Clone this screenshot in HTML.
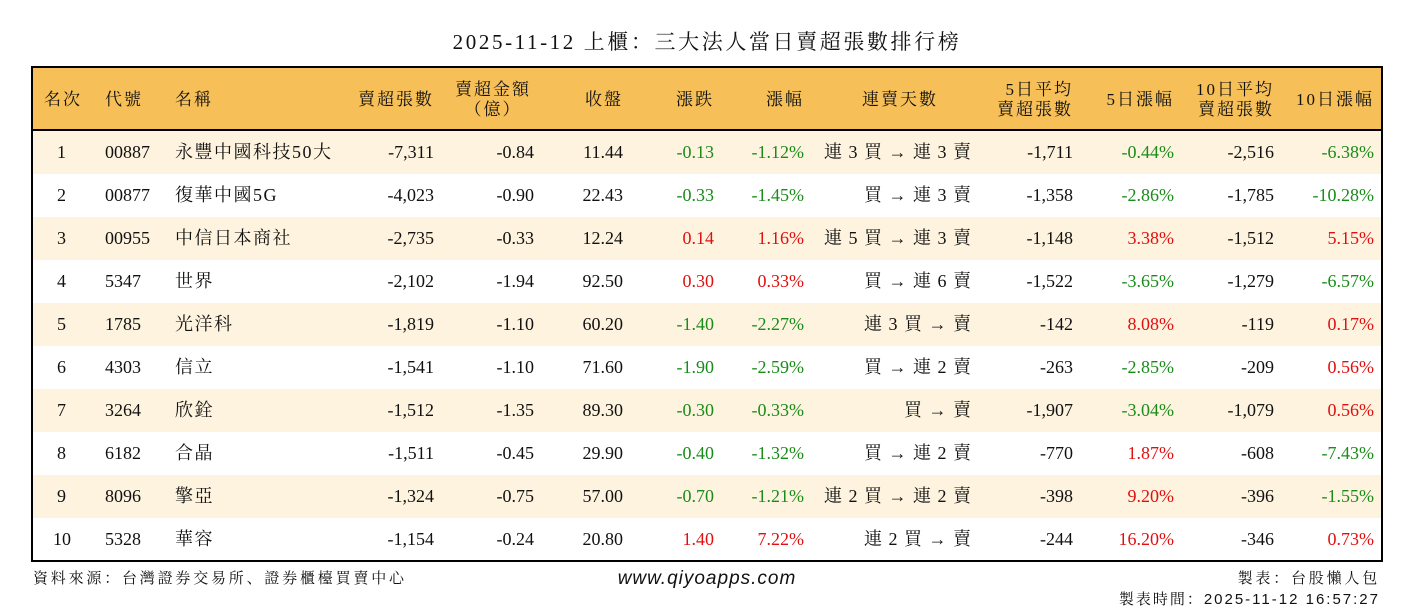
<!DOCTYPE html>
<html><head><meta charset="utf-8"><style>
body{margin:0;width:1414px;height:612px;background:#fff;position:relative;overflow:hidden;font-family:"Liberation Serif","Noto Serif CJK SC","Noto Sans CJK TC",serif;color:#111;}
.t{position:absolute;left:0;width:1414px;top:28px;text-align:center;font-size:21px;line-height:28px;letter-spacing:2.6px;}
.tb{position:absolute;left:31px;top:66px;width:1348px;height:492px;border:2px solid #000;}
.hd{position:absolute;left:0;top:0;width:1348px;height:61px;background:#F6BF57;border-bottom:2px solid #000;}
.r{position:absolute;left:0;width:1348px;height:43px;}
.o{background:#FDF3DE;}
.c{position:absolute;line-height:43px;font-size:18px;white-space:nowrap;}
.h{position:absolute;font-size:17px;white-space:nowrap;letter-spacing:2px;line-height:20px;}
.R{text-align:right;width:200px;}
.g{color:#1a8c1a}.d{color:#e01010}
.cj{letter-spacing:1.5px}
.cd{letter-spacing:1px}
.f{position:absolute;font-family:"Liberation Sans","Noto Serif CJK SC","Noto Sans CJK TC",sans-serif;font-size:15px;letter-spacing:2.8px;white-space:nowrap;}
</style></head><body>
<div class="t">2025-11-12 上櫃：三大法人當日賣超張數排行榜</div>
<div class="tb">
<div class="hd">
<div class="h" style="left:11px;top:22px">名次</div>
<div class="h" style="left:72px;top:22px">代號</div>
<div class="h" style="left:142px;top:22px">名稱</div>
<div class="h R" style="left:201px;top:22px">賣超張數</div>
<div class="h" style="left:419px;top:12px;width:82px;text-align:center">賣超金額<br>（億）</div>
<div class="h R" style="left:390px;top:22px">收盤</div>
<div class="h R" style="left:481px;top:22px">漲跌</div>
<div class="h R" style="left:571px;top:22px">漲幅</div>
<div class="h R" style="left:705px;top:22px">連賣天數</div>
<div class="h R" style="left:840px;top:12px">5日平均<br>賣超張數</div>
<div class="h R" style="left:941px;top:22px">5日漲幅</div>
<div class="h R" style="left:1041px;top:12px">10日平均<br>賣超張數</div>
<div class="h R" style="left:1141px;top:22px">10日漲幅</div>
</div>

<div class="r o" style="top:63px">
<div class="c" style="left:24px">1</div><div class="c" style="left:72px">00887</div><div class="c cj" style="left:142px">永豐中國科技50大</div>
<div class="c R" style="left:201px">-7,311</div><div class="c R" style="left:301px">-0.84</div><div class="c R" style="left:390px">11.44</div>
<div class="c R g" style="left:481px">-0.13</div><div class="c R g" style="left:571px">-1.12%</div><div class="c R cd" style="left:739px">連 3 買 → 連 3 賣</div>
<div class="c R" style="left:840px">-1,711</div><div class="c R g" style="left:941px">-0.44%</div><div class="c R" style="left:1041px">-2,516</div><div class="c R g" style="left:1141px">-6.38%</div>
</div>
<div class="r" style="top:106px">
<div class="c" style="left:24px">2</div><div class="c" style="left:72px">00877</div><div class="c cj" style="left:142px">復華中國5G</div>
<div class="c R" style="left:201px">-4,023</div><div class="c R" style="left:301px">-0.90</div><div class="c R" style="left:390px">22.43</div>
<div class="c R g" style="left:481px">-0.33</div><div class="c R g" style="left:571px">-1.45%</div><div class="c R cd" style="left:739px">買 → 連 3 賣</div>
<div class="c R" style="left:840px">-1,358</div><div class="c R g" style="left:941px">-2.86%</div><div class="c R" style="left:1041px">-1,785</div><div class="c R g" style="left:1141px">-10.28%</div>
</div>
<div class="r o" style="top:149px">
<div class="c" style="left:24px">3</div><div class="c" style="left:72px">00955</div><div class="c cj" style="left:142px">中信日本商社</div>
<div class="c R" style="left:201px">-2,735</div><div class="c R" style="left:301px">-0.33</div><div class="c R" style="left:390px">12.24</div>
<div class="c R d" style="left:481px">0.14</div><div class="c R d" style="left:571px">1.16%</div><div class="c R cd" style="left:739px">連 5 買 → 連 3 賣</div>
<div class="c R" style="left:840px">-1,148</div><div class="c R d" style="left:941px">3.38%</div><div class="c R" style="left:1041px">-1,512</div><div class="c R d" style="left:1141px">5.15%</div>
</div>
<div class="r" style="top:192px">
<div class="c" style="left:24px">4</div><div class="c" style="left:72px">5347</div><div class="c cj" style="left:142px">世界</div>
<div class="c R" style="left:201px">-2,102</div><div class="c R" style="left:301px">-1.94</div><div class="c R" style="left:390px">92.50</div>
<div class="c R d" style="left:481px">0.30</div><div class="c R d" style="left:571px">0.33%</div><div class="c R cd" style="left:739px">買 → 連 6 賣</div>
<div class="c R" style="left:840px">-1,522</div><div class="c R g" style="left:941px">-3.65%</div><div class="c R" style="left:1041px">-1,279</div><div class="c R g" style="left:1141px">-6.57%</div>
</div>
<div class="r o" style="top:235px">
<div class="c" style="left:24px">5</div><div class="c" style="left:72px">1785</div><div class="c cj" style="left:142px">光洋科</div>
<div class="c R" style="left:201px">-1,819</div><div class="c R" style="left:301px">-1.10</div><div class="c R" style="left:390px">60.20</div>
<div class="c R g" style="left:481px">-1.40</div><div class="c R g" style="left:571px">-2.27%</div><div class="c R cd" style="left:739px">連 3 買 → 賣</div>
<div class="c R" style="left:840px">-142</div><div class="c R d" style="left:941px">8.08%</div><div class="c R" style="left:1041px">-119</div><div class="c R d" style="left:1141px">0.17%</div>
</div>
<div class="r" style="top:278px">
<div class="c" style="left:24px">6</div><div class="c" style="left:72px">4303</div><div class="c cj" style="left:142px">信立</div>
<div class="c R" style="left:201px">-1,541</div><div class="c R" style="left:301px">-1.10</div><div class="c R" style="left:390px">71.60</div>
<div class="c R g" style="left:481px">-1.90</div><div class="c R g" style="left:571px">-2.59%</div><div class="c R cd" style="left:739px">買 → 連 2 賣</div>
<div class="c R" style="left:840px">-263</div><div class="c R g" style="left:941px">-2.85%</div><div class="c R" style="left:1041px">-209</div><div class="c R d" style="left:1141px">0.56%</div>
</div>
<div class="r o" style="top:321px">
<div class="c" style="left:24px">7</div><div class="c" style="left:72px">3264</div><div class="c cj" style="left:142px">欣銓</div>
<div class="c R" style="left:201px">-1,512</div><div class="c R" style="left:301px">-1.35</div><div class="c R" style="left:390px">89.30</div>
<div class="c R g" style="left:481px">-0.30</div><div class="c R g" style="left:571px">-0.33%</div><div class="c R cd" style="left:739px">買 → 賣</div>
<div class="c R" style="left:840px">-1,907</div><div class="c R g" style="left:941px">-3.04%</div><div class="c R" style="left:1041px">-1,079</div><div class="c R d" style="left:1141px">0.56%</div>
</div>
<div class="r" style="top:364px">
<div class="c" style="left:24px">8</div><div class="c" style="left:72px">6182</div><div class="c cj" style="left:142px">合晶</div>
<div class="c R" style="left:201px">-1,511</div><div class="c R" style="left:301px">-0.45</div><div class="c R" style="left:390px">29.90</div>
<div class="c R g" style="left:481px">-0.40</div><div class="c R g" style="left:571px">-1.32%</div><div class="c R cd" style="left:739px">買 → 連 2 賣</div>
<div class="c R" style="left:840px">-770</div><div class="c R d" style="left:941px">1.87%</div><div class="c R" style="left:1041px">-608</div><div class="c R g" style="left:1141px">-7.43%</div>
</div>
<div class="r o" style="top:407px">
<div class="c" style="left:24px">9</div><div class="c" style="left:72px">8096</div><div class="c cj" style="left:142px">擎亞</div>
<div class="c R" style="left:201px">-1,324</div><div class="c R" style="left:301px">-0.75</div><div class="c R" style="left:390px">57.00</div>
<div class="c R g" style="left:481px">-0.70</div><div class="c R g" style="left:571px">-1.21%</div><div class="c R cd" style="left:739px">連 2 買 → 連 2 賣</div>
<div class="c R" style="left:840px">-398</div><div class="c R d" style="left:941px">9.20%</div><div class="c R" style="left:1041px">-396</div><div class="c R g" style="left:1141px">-1.55%</div>
</div>
<div class="r" style="top:450px">
<div class="c" style="left:20px">10</div><div class="c" style="left:72px">5328</div><div class="c cj" style="left:142px">華容</div>
<div class="c R" style="left:201px">-1,154</div><div class="c R" style="left:301px">-0.24</div><div class="c R" style="left:390px">20.80</div>
<div class="c R d" style="left:481px">1.40</div><div class="c R d" style="left:571px">7.22%</div><div class="c R cd" style="left:739px">連 2 買 → 賣</div>
<div class="c R" style="left:840px">-244</div><div class="c R d" style="left:941px">16.20%</div><div class="c R" style="left:1041px">-346</div><div class="c R d" style="left:1141px">0.73%</div>
</div>
</div>
<div class="f" style="left:33px;top:567px">資料來源：台灣證券交易所、證券櫃檯買賣中心</div>
<div class="f" style="left:0;width:1414px;text-align:center;top:568px;font-size:19px;font-style:italic;letter-spacing:1px">www.qiyoapps.com</div>
<div class="f" style="right:34px;top:567px">製表：台股懶人包</div>
<div class="f" style="right:34px;top:588px;letter-spacing:2px">製表時間：2025-11-12 16:57:27</div>
</body></html>
